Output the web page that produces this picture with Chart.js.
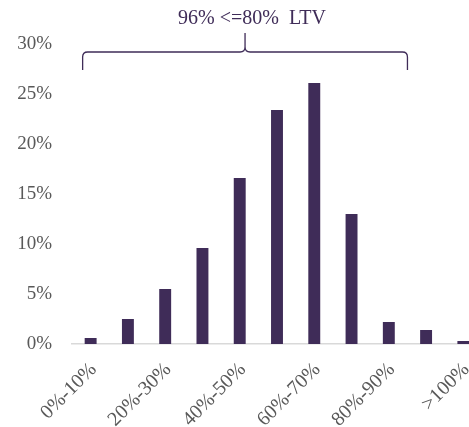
<!DOCTYPE html>
<html>
<head>
<meta charset="utf-8">
<script src="https://cdn.jsdelivr.net/npm/chart.js@4"></script>
<style>
  html, body { margin: 0; padding: 0; background: #ffffff; overflow: hidden; }
  #wrap { width: 469px; height: 427px; overflow: hidden; position: relative; }
  canvas { display: block; }
</style>
</head>
<body>
<div id="wrap"><canvas id="c" width="484" height="427"></canvas></div>
<script>
const categories = ['0%-10%', '10%-20%', '20%-30%', '30%-40%', '40%-50%', '50%-60%', '60%-70%', '70%-80%', '80%-90%', '90%-100%', '>100%'];
const shares = [0.6, 2.5, 5.5, 9.6, 16.6, 23.4, 26.1, 13.0, 2.2, 1.4, 0.3];
const yTicks = [0, 5, 10, 15, 20, 25, 30];
const annotationText = '96% <=80%  LTV';

const FONT = "'Liberation Serif', 'Times New Roman', serif";
const PURPLE = '#3f2c58';

const bracePlugin = {
  id: 'brace',
  afterDraw(chart) {
    const x = chart.scales.x;
    const top = chart.chartArea.top;
    const ctx = chart.ctx;
    const left = x.getPixelForValue(0) - 8;
    const right = (x.getPixelForValue(8) + x.getPixelForValue(9)) / 2;
    const mid = (left + right) / 2;
    const yLine = top + 8;
    const yEnd = top + 26;
    const yTip = top - 11;
    const r = 5;
    ctx.save();
    ctx.strokeStyle = PURPLE;
    ctx.lineWidth = 1.3;
    ctx.beginPath();
    ctx.moveTo(left, yEnd);
    ctx.lineTo(left, yLine + r);
    ctx.quadraticCurveTo(left, yLine, left + r, yLine);
    ctx.lineTo(mid - r, yLine);
    ctx.quadraticCurveTo(mid, yLine, mid, yLine - r);
    ctx.lineTo(mid, yTip);
    ctx.moveTo(mid, yLine - r);
    ctx.quadraticCurveTo(mid, yLine, mid + r, yLine);
    ctx.lineTo(right - r, yLine);
    ctx.quadraticCurveTo(right, yLine, right, yLine + r);
    ctx.lineTo(right, yEnd);
    ctx.stroke();
    ctx.fillStyle = PURPLE;
    ctx.font = '20px ' + FONT;
    ctx.textAlign = 'center';
    ctx.textBaseline = 'middle';
    ctx.fillText(annotationText, mid + 7, top - 25);
    ctx.restore();
  }
};

new Chart(document.getElementById('c'), {
  type: 'bar',
  data: {
    labels: categories,
    datasets: [{
      data: shares,
      backgroundColor: PURPLE,
      borderWidth: 0,
      barPercentage: 0.32,
      categoryPercentage: 1.0
    }]
  },
  options: {
    responsive: false,
    animation: false,
    layout: { padding: { top: 44, right: 2, left: 0, bottom: 0 } },
    plugins: { legend: { display: false }, tooltip: { enabled: false } },
    scales: {
      x: {
        grid: { display: false, drawTicks: false },
        border: { display: true, color: '#d9d9d9', width: 1.5 },
        ticks: {
          autoSkip: false,
          maxRotation: 45,
          minRotation: 45,
          padding: 14,
          labelOffset: 3,
          color: '#595959',
          font: { family: FONT, size: 20 },
          callback: function (v, i) { return i % 2 === 0 ? categories[i] : ''; }
        },
        afterFit: function (s) { s.height = 83; s.paddingLeft = 0; s.paddingRight = 0; }
      },
      y: {
        min: yTicks[0],
        max: yTicks[yTicks.length - 1],
        grid: { display: false, drawTicks: false },
        border: { display: false },
        afterBuildTicks: function (s) { s.ticks = yTicks.map(v => ({ value: v })); },
        ticks: {
          padding: 20,
          color: '#595959',
          font: { family: FONT, size: 19 },
          callback: function (v) { return v + '%'; }
        },
        afterFit: function (s) { s.width = 72; s.paddingTop = 0; s.paddingBottom = 0; }
      }
    }
  },
  plugins: [bracePlugin]
});
</script>
</body>
</html>
